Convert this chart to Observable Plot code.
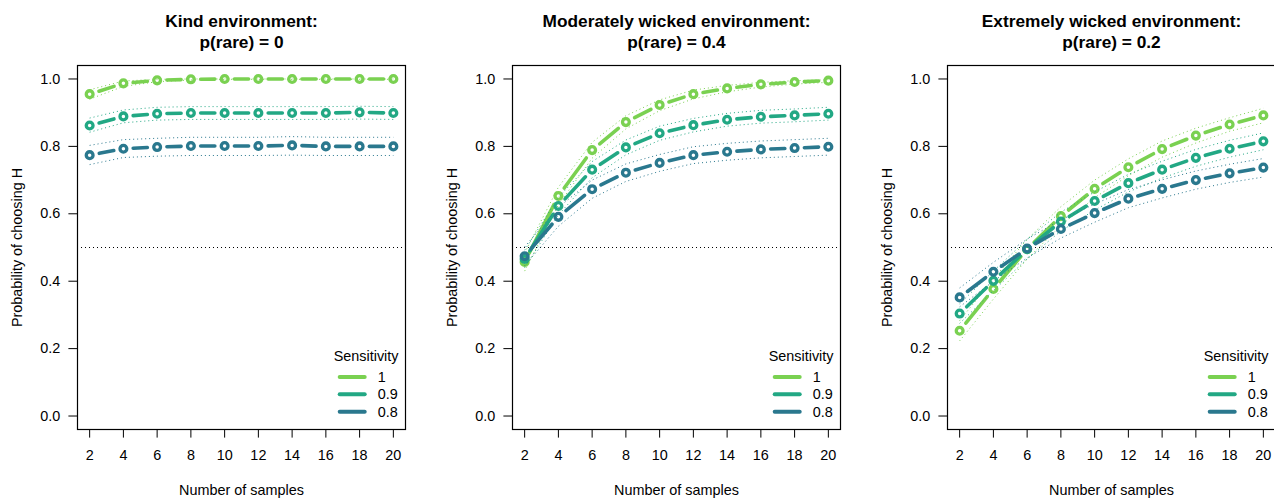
<!DOCTYPE html>
<html><head><meta charset="utf-8">
<script src="https://cdn.jsdelivr.net/npm/d3@7"></script>
<script src="https://cdn.jsdelivr.net/npm/@observablehq/plot@0.6"></script>
<style>
body{margin:0;background:#fff;}
#wrap{position:relative;width:1274px;height:499px;overflow:hidden;background:#fff;}
.panel{position:absolute;top:0;}
</style></head><body><div id="wrap"></div>
<script>
// ---- data ----
const samples = [2, 4, 6, 8, 10, 12, 14, 16, 18, 20];
const sensitivities = ["1", "0.9", "0.8"];
const colors = ["#7AD151", "#22A884", "#2A788E"];
const titles = [
  ["Kind environment:", "p(rare) = 0"],
  ["Moderately wicked environment:", "p(rare) = 0.4"],
  ["Extremely wicked environment:", "p(rare) = 0.2"]
];
const yTicks = [0, 0.2, 0.4, 0.6, 0.8, 1.0];

// Kind environment
const kind1   = [0.955, 0.987, 0.996, 0.999, 1.000, 1.000, 1.000, 1.000, 1.000, 1.000];
const kind1Lo = [0.940, 0.978, 0.992, 0.997, 0.999, 0.999, 0.999, 0.999, 0.999, 0.999];
const kind1Hi = [0.968, 0.994, 0.999, 1.000, 1.000, 1.000, 1.000, 1.000, 1.000, 1.000];
const kind09   = [0.862, 0.889, 0.897, 0.899, 0.899, 0.899, 0.899, 0.899, 0.901, 0.899];
const kind09Lo = [0.842, 0.870, 0.878, 0.880, 0.880, 0.880, 0.880, 0.880, 0.881, 0.880];
const kind09Hi = [0.884, 0.908, 0.916, 0.918, 0.918, 0.918, 0.918, 0.918, 0.919, 0.918];
const kind08   = [0.774, 0.793, 0.798, 0.801, 0.801, 0.801, 0.803, 0.800, 0.800, 0.800];
const kind08Lo = [0.746, 0.767, 0.771, 0.773, 0.773, 0.773, 0.774, 0.773, 0.773, 0.773];
const kind08Hi = [0.803, 0.820, 0.824, 0.827, 0.827, 0.827, 0.829, 0.827, 0.827, 0.827];

// Moderately wicked environment
const mod1   = [0.457, 0.653, 0.789, 0.872, 0.923, 0.955, 0.972, 0.984, 0.991, 0.995];
const mod1Lo = [0.430, 0.627, 0.765, 0.852, 0.906, 0.941, 0.962, 0.976, 0.985, 0.990];
const mod1Hi = [0.484, 0.679, 0.812, 0.891, 0.938, 0.967, 0.981, 0.990, 0.995, 0.998];
const mod09   = [0.466, 0.623, 0.731, 0.797, 0.839, 0.863, 0.879, 0.888, 0.892, 0.897];
const mod09Lo = [0.440, 0.597, 0.707, 0.775, 0.818, 0.843, 0.860, 0.869, 0.873, 0.878];
const mod09Hi = [0.492, 0.649, 0.755, 0.819, 0.860, 0.883, 0.898, 0.907, 0.911, 0.916];
const mod08   = [0.474, 0.591, 0.673, 0.722, 0.751, 0.774, 0.784, 0.791, 0.795, 0.799];
const mod08Lo = [0.446, 0.563, 0.646, 0.696, 0.726, 0.749, 0.759, 0.766, 0.770, 0.774];
const mod08Hi = [0.502, 0.619, 0.700, 0.748, 0.776, 0.799, 0.809, 0.816, 0.820, 0.824];

// Extremely wicked environment
const ext1   = [0.253, 0.377, 0.495, 0.593, 0.674, 0.738, 0.792, 0.832, 0.865, 0.892];
const ext1Lo = [0.223, 0.347, 0.466, 0.565, 0.648, 0.713, 0.768, 0.810, 0.845, 0.870];
const ext1Hi = [0.283, 0.407, 0.524, 0.621, 0.700, 0.763, 0.816, 0.854, 0.885, 0.913];
const ext09   = [0.304, 0.401, 0.495, 0.577, 0.638, 0.691, 0.731, 0.766, 0.793, 0.815];
const ext09Lo = [0.275, 0.372, 0.466, 0.549, 0.611, 0.665, 0.706, 0.741, 0.768, 0.790];
const ext09Hi = [0.333, 0.430, 0.524, 0.605, 0.665, 0.717, 0.756, 0.791, 0.818, 0.840];
const ext08   = [0.352, 0.428, 0.497, 0.555, 0.602, 0.645, 0.674, 0.700, 0.720, 0.737];
const ext08Lo = [0.324, 0.400, 0.469, 0.528, 0.575, 0.618, 0.647, 0.673, 0.693, 0.709];
const ext08Hi = [0.380, 0.456, 0.525, 0.582, 0.629, 0.672, 0.701, 0.727, 0.747, 0.764];

const panelSeries = [
  [[kind1, kind1Lo, kind1Hi], [kind09, kind09Lo, kind09Hi], [kind08, kind08Lo, kind08Hi]],
  [[mod1, mod1Lo, mod1Hi], [mod09, mod09Lo, mod09Hi], [mod08, mod08Lo, mod08Hi]],
  [[ext1, ext1Lo, ext1Hi], [ext09, ext09Lo, ext09Hi], [ext08, ext08Lo, ext08Hi]]
];

// ---- layout ----
const FONT = "Liberation Sans, Arial, Helvetica, sans-serif";
const FS = 14.4;
const panelLeft = [0, 435, 870];
const ML = 77, PW = 328, MT = 65, MB = 70, H = 499, W = 424;
const LW = 3.6;      // main line width
const GAP = 9.8;     // distance from point centre where the line segment starts
const wrap = document.getElementById("wrap");

panelSeries.forEach((series, i) => {
  const marks = [
    Plot.ruleY([0.5], {stroke: "#000", strokeWidth: 1, strokeDasharray: "1,3"})
  ];
  series.forEach(([mean, lo, hi], j) => {
    const rows = samples.map((x, k) => ({x, y: mean[k], lo: lo[k], hi: hi[k]}));
    const segs = d3.pairs(rows).map(([a, b]) => ({x1: a.x, y1: a.y, x2: b.x, y2: b.y}));
    marks.push(Plot.line(rows, {x: "x", y: "lo", stroke: colors[j], strokeWidth: 1, strokeDasharray: "1,3", strokeLinecap: "butt"}));
    marks.push(Plot.line(rows, {x: "x", y: "hi", stroke: colors[j], strokeWidth: 1, strokeDasharray: "1,3", strokeLinecap: "butt"}));
    marks.push(Plot.link(segs, {x1: "x1", y1: "y1", x2: "x2", y2: "y2", stroke: colors[j], strokeWidth: LW, strokeLinecap: "round", ariaLabel: "seglink"}));
    marks.push(Plot.dot(rows, {x: "x", y: "y", r: 3.4, stroke: colors[j], strokeWidth: 3.3, fill: "none"}));
  });
  marks.push(
    Plot.frame({stroke: "#000", strokeWidth: 1.2}),
    Plot.axisY({ticks: yTicks, tickFormat: d3.format(".1f"), tickSize: 8.6, tickPadding: 8.7, fontSize: FS, label: null, stroke: "#000"}),
    Plot.axisX({ticks: samples, tickSize: 8.6, tickPadding: 12, fontSize: FS, label: null, stroke: "#000"}),
    Plot.text([titles[i][0]], {text: d => d, frameAnchor: "top", dy: -44.3, fontWeight: "bold", fontSize: 17.3, lineAnchor: "middle"}),
    Plot.text([titles[i][1]], {text: d => d, frameAnchor: "top", dy: -23, fontWeight: "bold", fontSize: 17.3, lineAnchor: "middle"}),
    Plot.text(["Probability of choosing H"], {text: d => d, frameAnchor: "left", dx: -60, rotate: -90, fontSize: FS, lineAnchor: "middle", textAnchor: "middle"}),
    Plot.text(["Number of samples"], {text: d => d, frameAnchor: "bottom", dy: 61, fontSize: FS, lineAnchor: "middle"}),
    Plot.text(["Sensitivity"], {text: d => d, frameAnchor: "bottom-right", dx: -7, dy: -73.3, fontSize: FS, lineAnchor: "middle", textAnchor: "end"})
  );
  const svg = Plot.plot({
    width: W, height: H,
    marginLeft: ML, marginRight: W - ML - PW, marginTop: MT, marginBottom: MB,
    x: {domain: [1.28, 20.72]},
    y: {domain: [-0.04, 1.04]},
    style: {fontFamily: FONT, fontSize: FS + "px", color: "#000", background: "transparent", overflow: "visible"},
    marks
  });
  svg.classList.add("panel");
  svg.style.left = panelLeft[i] + "px";
  wrap.appendChild(svg);

  // gaps around points (R type "b" style): shorten each segment in pixel space via dash pattern
  const linkPaths = Array.from(svg.querySelectorAll("path")).filter(p => {
    const g = p.closest("g");
    return g && /link/.test(g.getAttribute("aria-label") || "");
  });
  linkPaths.forEach(p => {
    let L = 0;
    try { L = p.getTotalLength(); } catch (e) { L = 0; }
    if (!(L > 0)) {
      const nums = (p.getAttribute("d") || "").match(/-?\d*\.?\d+(?:e-?\d+)?/g) || [];
      if (nums.length >= 4) L = Math.hypot(nums[nums.length - 2] - nums[0], nums[nums.length - 1] - nums[1]);
    }
    if (L > 2 * GAP) {
      const on = L - 2 * GAP, off = 2 * GAP + 10;
      p.setAttribute("stroke-dasharray", `${on} ${off}`);
      p.setAttribute("stroke-dashoffset", `${on + off - GAP}`);
    }
  });

  // legend
  const R = ML + PW, B = H - MB;
  const leg = d3.select(svg).append("g").attr("font-family", FONT).attr("font-size", FS).attr("text-anchor", "start");
  sensitivities.forEach((s, j) => {
    const yy = B - 52 + j * 17.35;
    leg.append("line").attr("x1", R - 65.3).attr("x2", R - 40.3).attr("y1", yy).attr("y2", yy)
      .attr("stroke", colors[j]).attr("stroke-width", 4).attr("stroke-linecap", "round");
    leg.append("text").attr("x", R - 27.3).attr("y", yy).attr("dy", "0.35em").attr("fill", "#000").attr("text-anchor", "start").text(s);
  });
});
</script></body></html>
